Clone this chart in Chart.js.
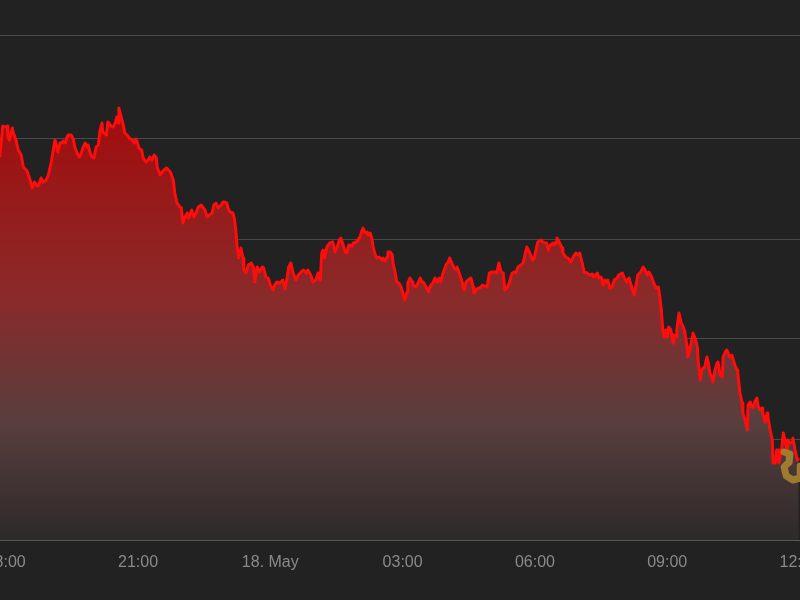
<!DOCTYPE html>
<html>
<head>
<meta charset="utf-8">
<script src="https://cdn.jsdelivr.net/npm/chart.js@4.4.1/dist/chart.umd.min.js"></script>
<style>
  html, body { margin: 0; padding: 0; background: #222; overflow: hidden; }
  #wrap { position: absolute; left: -50px; top: 0; width: 900px; height: 600px; }
</style>
</head>
<body>
<div id="wrap"><canvas id="chart" width="900" height="600"></canvas></div>
<script>
// time in minutes from 17 May 00:00, price in index points
const minutes = [
  1072,1076,1079,1082,1083,1085,1089,1090,1094,1097,1101,1104,1108,1110,1114,1116,1119,1123,1125,1128,
  1131,1135,1138,1142,1144,1147,1150,1151,1154,1157,1158,1161,1163,1165,1169,1172,1174,1177,1180,1182,
  1185,1188,1191,1192,1195,1197,1200,1203,1206,1208,1211,1212,1217,1219,1223,1226,1229,1231,1233,1234,
  1237,1240,1242,1245,1248,1252,1255,1257,1259,1261,1265,1267,1271,1274,1276,1279,1282,1285,1286,
  1290,1294,1299,1304,1308,1310,1313,1316,1319,1321,1324,1327,1329,1333,1336,1339,1342,1346,1348,1351,
  1354,1357,1361,1363,1366,1369,1372,1376,1378,1381,1382,1385,1389,1391,1393,1395,1397,1400,1403,1404,
  1407,1410,1414,1417,1419,1422,1425,1429,1431,1434,1437,1440,1444,1446,1449,1453,1457,1460,1463,1465,
  1468,1471,1475,1478,1482,1485,1489,1491,1495,1498,1502,1505,
  1508,1510,1512,1514,1517,1521,1525,1528,1531,1534,1536,1539,1542,1544,1547,1551,1553,1557,1559,1562,
  1565,1566,1569,1572,1573,1576,1578,1580,1582,1585,1588,1592,1593,1596,1599,1600,1603,1606,1607,1610,
  1612,1615,1618,1621,1623,1626,1627,1630,1633,1634,1638,1641,1644,1646,1648,1652,1655,1657,1661,1664,
  1667,1670,1672,1675,1679,1682,1684,1687,1690,1693,1694,1697,1701,1704,1706,1709,1713,1716,1717,1720,
  1723,
  1725,1729,1735,1738,1742,1746,1748,1751,1754,1757,1759,1762,1765,1769,1772,1774,1777,1781,1784,1787,
  1789,1791,1793,1797,1799,1802,1804,1808,1811,1814,1816,1818,1821,1825,1826,1829,1830,1833,1837,1838,
  1842,1845,1849,1852,1856,1859,1861,1864,1867,1871,1874,1878,1880,1885,1887,1890,1893,1895,1898,1899,
  1902,1905,1908,1912,1914,1919,1921,1925,1928,1932,1935,1938,1940,1944,1947,1950,1953,1955,1959,1961,
  1965,1968,1970,
  1972,1974,1976,1978,1980,1982,1985,1988,1989,1992,1993,1996,1999,2002,2004,2007,2008,2011,2014,2015,
  2018,2021,2022,2025,2027,2029,2031,2034,2036,2038,2041,2042,2045,2048,2049,2052,2055,2056,2059,2061,
  2063,2065,2068,2070,2072,2075,2076,2079,2082,2083,2086,2089,2090,2093,2095,2097,2099,2102,2104,2106,
  2109,2110,2113,2116,2117,2120,2123,2124,2127,2129,2131,2132,2136,2138,2140,2143,2144,2147,2150,2151,
  2154,2157,2159
];
const prices = [
  5476.6,5482.8,5482.6,5482.8,5480.6,5480.0,5482.4,5481.6,5480.0,5478.0,5477.0,5474.6,5474.0,5473.4,5471.6,5470.4,5471.6,5470.8,5471.0,5472.4,
  5471.6,5472.0,5473.0,5475.6,5477.4,5480.0,5478.4,5477.6,5479.4,5479.4,5479.8,5479.4,5480.4,5481.0,5481.0,5480.2,5478.6,5477.4,5476.6,5477.0,
  5478.4,5479.4,5478.6,5479.0,5477.4,5476.6,5476.4,5478.6,5479.0,5481.6,5483.4,5481.6,5481.0,5483.6,5482.8,5482.6,5483.4,5484.6,5483.4,5486.4,
  5484.6,5483.0,5481.4,5481.0,5480.4,5480.0,5479.4,5480.2,5479.6,5478.4,5478.0,5476.4,5475.6,5476.0,5476.6,5476.0,5477.0,5476.4,5474.6,
  5473.0,5473.8,5474.4,5473.6,5472.0,5469.4,5467.4,5466.8,5466.4,5463.4,5464.6,5465.4,5464.4,5466.0,5464.6,5465.4,5466.6,5467.0,5466.6,5466.0,
  5464.6,5465.0,5465.4,5467.0,5467.4,5466.4,5466.8,5467.6,5467.6,5467.4,5466.6,5465.6,5465.4,5464.4,5462.0,5458.4,5456.4,5458.4,5456.4,5454.0,
  5453.4,5455.0,5455.4,5454.6,5451.6,5454.6,5453.6,5454.6,5454.4,5452.6,5452.4,5451.0,5450.0,5451.0,5451.6,5451.4,5452.0,5450.2,5452.6,5454.6,
  5455.4,5453.4,5452.0,5453.0,5453.6,5454.0,5453.4,5454.0,5453.0,5451.6,5452.0,5453.4,
  5452.0,5457.4,5458.0,5456.4,5458.6,5459.4,5459.6,5457.6,5458.6,5460.0,5460.4,5459.0,5457.6,5457.4,5459.0,5458.8,5459.4,5459.6,5460.0,5460.6,
  5462.0,5462.4,5461.4,5461.6,5461.0,5461.4,5460.4,5458.6,5457.4,5456.4,5456.6,5456.0,5456.4,5455.8,5456.6,5457.6,5457.6,5457.0,5455.4,5453.4,
  5451.6,5451.4,5450.6,5449.0,5448.0,5449.6,5451.4,5452.4,5451.6,5451.0,5450.6,5451.4,5452.4,5451.6,5451.6,5450.6,5449.6,5450.6,5451.4,5452.4,
  5451.6,5452.4,5451.6,5453.4,5455.0,5455.6,5456.4,5455.4,5454.4,5454.0,5454.6,5453.4,5451.6,5450.0,5451.4,5452.0,5452.4,5450.6,5449.4,5450.0,
  5450.4,
  5450.4,5451.0,5450.6,5453.4,5453.6,5453.6,5453.4,5455.4,5453.6,5453.4,5450.0,5450.4,5451.4,5453.4,5453.6,5453.4,5454.6,5455.0,5455.4,5457.4,
  5458.6,5458.0,5457.4,5456.0,5456.4,5458.4,5459.6,5460.0,5459.6,5459.4,5459.4,5458.0,5459.0,5459.4,5459.0,5459.6,5460.4,5459.6,5458.4,5457.4,
  5456.6,5456.4,5455.6,5456.6,5457.4,5457.0,5457.4,5455.6,5453.6,5453.4,5453.0,5453.2,5452.6,5453.4,5452.4,5452.6,5451.0,5452.0,5451.6,5452.0,
  5450.4,5450.6,5452.0,5452.4,5453.0,5453.4,5452.6,5451.6,5452.4,5450.4,5449.0,5451.4,5453.0,5453.6,5454.6,5454.0,5453.0,5453.6,5452.6,5451.6,
  5450.4,5450.6,5448.6,
  5446.0,5442.0,5440.6,5442.0,5440.6,5442.6,5442.0,5439.4,5441.0,5440.6,5442.0,5445.4,5443.4,5442.6,5441.6,5438.6,5436.6,5438.0,5440.6,5441.4,
  5440.4,5438.6,5436.0,5432.0,5434.0,5434.4,5434.6,5436.6,5435.4,5433.4,5432.4,5431.6,5434.0,5435.4,5435.6,5433.0,5432.6,5436.6,5437.6,5438.0,
  5437.4,5436.6,5437.0,5436.0,5435.0,5434.0,5433.4,5429.4,5427.4,5425.4,5424.0,5422.0,5427.0,5427.6,5426.6,5426.4,5427.6,5428.4,5426.6,5426.0,
  5426.4,5425.4,5423.6,5425.4,5424.6,5422.0,5420.0,5415.4,5415.4,5418.0,5418.0,5415.4,5418.6,5421.4,5420.0,5418.0,5420.0,5419.4,5419.6,5420.4,
  5418.0,5416.0,5416.4
];

// live marker trail at the end
const liveMinutes = [2139, 2147, 2146, 2139, 2142, 2151, 2161, 2161];
const livePrices = [5417.6, 5417.2, 5415.6, 5414.6, 5412.8, 5412.0, 5412.4, 5414.8];

// x axis ticks every 3 hours
const tickMinutes = [1080, 1260, 1440, 1620, 1800, 1980, 2160];
const tickLabels = ['18:00', '21:00', '18. May', '03:00', '06:00', '09:00', '12:00'];
// horizontal grid lines
const gridPrices = [5400, 5420.1, 5440.3, 5460.1, 5480.4, 5500.9];

const points = minutes.map((m, i) => ({ x: m, y: prices[i] }));
const livePoints = liveMinutes.map((m, i) => ({ x: m, y: livePrices[i] }));

function fillGradient(context) {
    const chart = context.chart;
    const area = chart.chartArea;
    if (!area) return 'rgba(160,12,12,0.8)';
    const g = chart.ctx.createLinearGradient(0, area.top, 0, area.bottom);
    g.addColorStop(0, '#ac0808');
    g.addColorStop(0.2, '#a20c0c');
    g.addColorStop(0.55, '#8a2a2a');
    g.addColorStop(0.78, '#5a3e3e');
    g.addColorStop(1, '#2c2a2a');
    return g;
}

const ctx = document.getElementById('chart').getContext('2d');
new Chart(ctx, {
    type: 'line',
    data: {
        datasets: [
            {
                data: livePoints,
                borderColor: 'rgba(168,130,48,0.9)',
                borderWidth: 7,
                borderCapStyle: 'round',
                borderJoinStyle: 'round',
                pointRadius: 0,
                fill: false,
                order: 0
            },
            {
                data: points,
                borderColor: '#ff0c0c',
                borderWidth: 3,
                borderJoinStyle: 'round',
                backgroundColor: fillGradient,
                fill: 'start',
                pointRadius: 0,
                tension: 0,
                order: 1
            }
        ]
    },
    options: {
        responsive: false,
        animation: false,
        layout: { padding: 0 },
        plugins: {
            legend: { display: false },
            tooltip: { enabled: false }
        },
        scales: {
            x: {
                type: 'linear',
                min: 1004.2,
                max: 2228.7,
                grid: { display: false, drawTicks: false },
                border: { display: false },
                afterBuildTicks: (axis) => { axis.ticks = tickMinutes.map(v => ({ value: v })); },
                afterFit: (axis) => { axis.height = 60; },
                ticks: {
                    autoSkip: false,
                    maxRotation: 0,
                    padding: 13,
                    color: '#8a8a8a',
                    font: { family: '"Liberation Sans", Arial, sans-serif', size: 16 },
                    callback: (value) => {
                        const i = tickMinutes.indexOf(value);
                        return i >= 0 ? tickLabels[i] : '';
                    }
                }
            },
            y: {
                min: 5400,
                max: 5508,
                border: { display: false },
                grid: {
                    drawTicks: false,
                    lineWidth: 1,
                    color: (c) => (c.tick && c.tick.value === 5400 ? '#585858' : '#4a4a4a')
                },
                afterBuildTicks: (axis) => { axis.ticks = gridPrices.map(v => ({ value: v })); },
                afterFit: (axis) => { axis.width = 0; },
                ticks: { display: false }
            }
        }
    }
});
</script>
</body>
</html>
